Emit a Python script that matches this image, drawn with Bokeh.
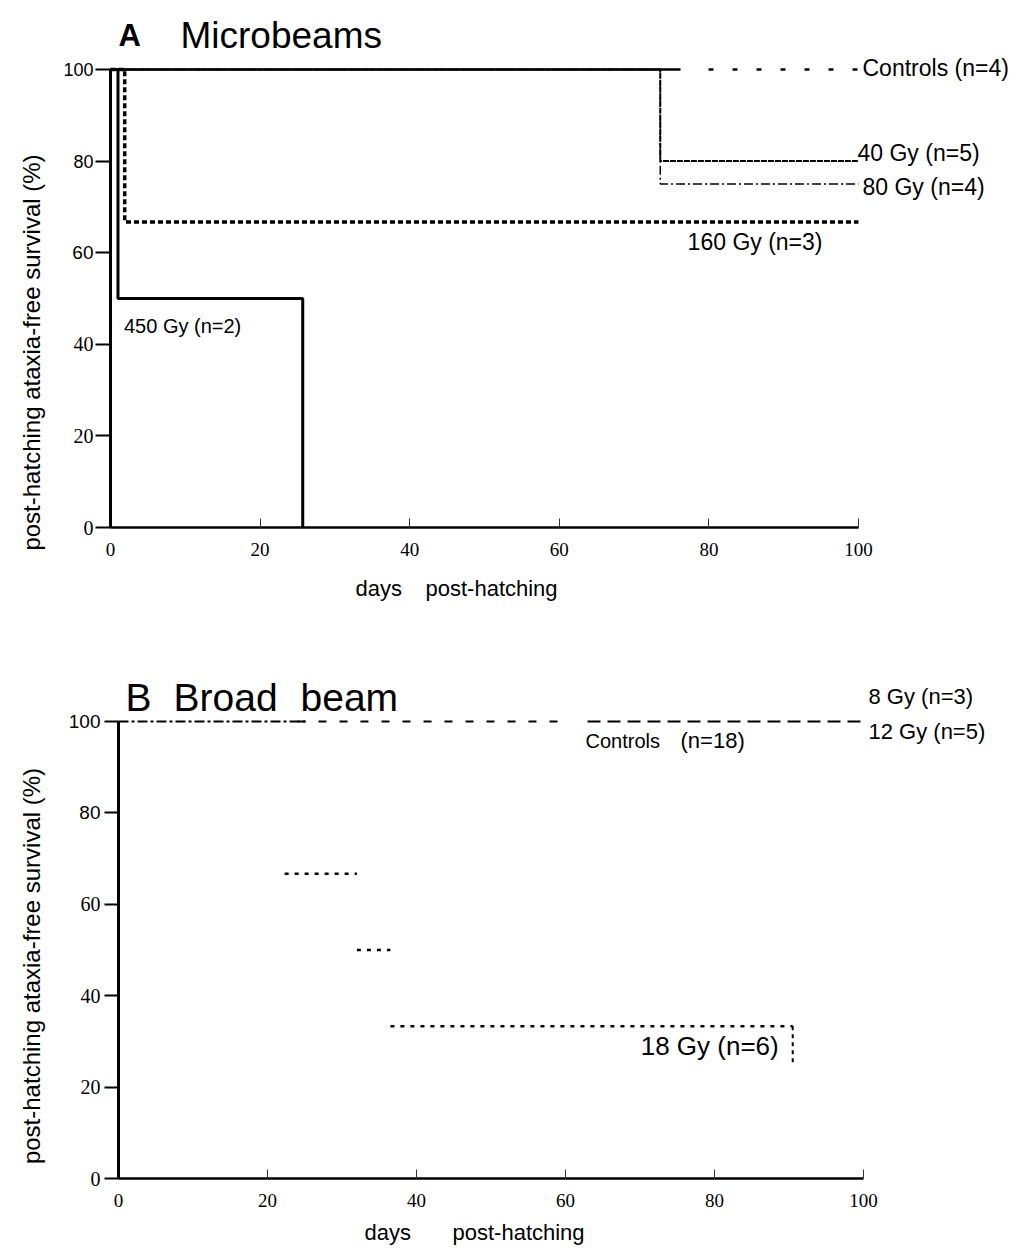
import math
from bokeh.plotting import figure
from bokeh.models import Range1d, Label, FixedTicker
from bokeh.layouts import column
from bokeh.embed import file_html
from bokeh.resources import INLINE

# ---------------- data ----------------
X_TICKS = [0, 20, 40, 60, 80, 100]
Y_TICKS = [0, 20, 40, 60, 80, 100]

# Panel A: microbeams (days post-hatching, % ataxia-free survival)
a_ctrl_t = [0, 100]
a_ctrl_s = [100, 100]
a_40_t = [0, 73.5, 100]
a_40_s = [100, 80, 80]
a_80_t = [0, 73.5, 100]
a_80_s = [100, 75, 75]
a_160_t = [0, 1.9, 100]
a_160_s = [100, 66.7, 66.7]
a_450_t = [0, 1.0, 25.7]
a_450_s = [100, 50, 0]

# Panel B: broad beam
b_ctrl_t = [0, 100]
b_ctrl_s = [100, 100]
b_8_t = [0, 100]
b_8_s = [100, 100]
b_12_t = [0, 100]
b_12_s = [100, 100]
b_18_t = [0, 22.3, 32.0, 36.5, 90.5]
b_18_s = [100, 66.7, 50, 33.3, 25]

SANS = "Liberation Sans"
SERIF = "Liberation Serif"

FIG_W = 1016


def zone_dash(parts):
    out = list(parts) + [0, 4000]
    return " ".join(str(int(round(v))) for v in out)


def zone_pattern(start_px, end_px, unit):
    parts = [0, start_px] if start_px > 0 else []
    length = 0
    while length < end_px - start_px:
        parts.extend(unit)
        length += sum(unit)
    return zone_dash(parts)


def make_fig(h, x0_px, pxd, y0_px, pyu, ytick_out):
    # x0_px / y0_px: position of the data origin inside the figure (px)
    xr = Range1d(-x0_px / pxd, (FIG_W - x0_px) / pxd)
    yr = Range1d(-(h - y0_px) / pyu, y0_px / pyu)
    p = figure(width=FIG_W, height=h, frame_width=FIG_W, frame_height=h,
               x_range=xr, y_range=yr,
               output_backend="svg", toolbar_location=None,
               min_border=0)
    p.outline_line_color = None
    p.grid.visible = False
    p.background_fill_color = "white"
    p.border_fill_color = "white"
    xa = p.xaxis[0]
    xa.fixed_location = 0
    xa.bounds = (0, 100)
    xa.ticker = FixedTicker(ticks=X_TICKS)
    xa.axis_line_width = 2.5
    xa.axis_line_color = "black"
    xa.major_tick_in = 9
    xa.major_tick_out = 0
    xa.major_tick_line_width = 1
    xa.major_tick_line_color = "#333333"
    xa.minor_tick_line_color = None
    xa.major_label_text_font = SERIF
    xa.major_label_text_font_size = "19px"
    xa.major_label_text_color = "black"
    xa.major_label_standoff = 15
    ya = p.yaxis[0]
    ya.fixed_location = 0
    ya.bounds = (0, 100)
    ya.ticker = FixedTicker(ticks=Y_TICKS)
    ya.major_label_overrides = {t: "" for t in Y_TICKS}
    ya.axis_line_width = 3
    ya.axis_line_color = "black"
    ya.major_tick_in = 0
    ya.major_tick_out = ytick_out
    ya.major_tick_line_width = 2
    ya.major_tick_line_color = "black"
    ya.minor_tick_line_color = None
    return p


def lab(p, x, y, text, dx, dy, size, font=SANS, align="left",
        baseline="middle", style="normal", angle=0.0):
    p.add_layout(Label(x=x, y=y, text=text, x_offset=dx, y_offset=dy,
                       text_font=font, text_font_size=f"{size}px",
                       text_align=align, text_baseline=baseline,
                       text_font_style=style, angle=angle,
                       text_color="black"))


# ---------------- Panel A ----------------
PXD_A = 7.48
pa = make_fig(613, 110, PXD_A, 527, 4.58, 15)

pa.step(a_450_t, a_450_s, mode="after", line_color="black", line_width=3)
pa.step(a_160_t, a_160_s, mode="after", line_color="black", line_width=3.5,
        line_dash="5 3")
pa.step(a_80_t, a_80_s, mode="after", line_color="black", line_width=1.5,
        line_dash="9 3 2 3")
pa.step(a_40_t, a_40_s, mode="after", line_color="black", line_width=2,
        line_dash="6 1")
ctrl_a_dash = zone_dash([76.2 * PXD_A, 28] + [5, 19] * 7)
pa.line(a_ctrl_t, a_ctrl_s, line_color="black", line_width=2.5,
        line_dash=ctrl_a_dash)

# y tick labels (the scan mixes fonts)
ytick_font_a = [SERIF, SERIF, SERIF, SANS, SANS, SANS]
ytick_size_a = [20, 20, 20, 19, 18, 18]
for t, f, s in zip(Y_TICKS, ytick_font_a, ytick_size_a):
    lab(pa, 0, t, str(t), -17, 0, s, font=f, align="right")

lab(pa, 0, 100, "A", 8, 34, 31, style="bold", baseline="alphabetic")
lab(pa, 0, 100, "Microbeams", 70, 34, 37, baseline="alphabetic")
lab(pa, a_ctrl_t[-1], a_ctrl_s[-1], "Controls", 4, 2, 23)
lab(pa, a_ctrl_t[-1], a_ctrl_s[-1], "(n=4)", 96, 2, 23)
lab(pa, a_40_t[-1], a_40_s[-1], "40 Gy (n=5)", -1, 8, 23)
lab(pa, a_80_t[-1], a_80_s[-1], "80 Gy (n=4)", 4, -3, 23)
lab(pa, a_160_t[-1], a_160_s[-1], "160 Gy (n=3)", -36, -20, 23, align="right")
lab(pa, a_450_t[1], a_450_s[1], "450 Gy (n=2)", 6, -27, 20)
lab(pa, 0, 50, "post-hatching ataxia-free survival (%)", -79, -54, 24,
    align="center", angle=math.pi / 2)
lab(pa, 0, 0, "days", 245, -61, 22)
lab(pa, 0, 0, "post-hatching", 315, -61, 22)

# ---------------- Panel B ----------------
PXD_B = 7.45
pb = make_fig(636, 118, PXD_B, 565, 4.57, 14)

pb.line(b_12_t, b_12_s, line_color="black", line_width=2,
        line_dash=zone_pattern(0, 23 * PXD_B, [10, 3, 3, 3]))
pb.line(b_8_t, b_8_s, line_color="black", line_width=2,
        line_dash=zone_pattern(24 * PXD_B, 59.5 * PXD_B, [8, 13]))
pb.line(b_ctrl_t, b_ctrl_s, line_color="black", line_width=2,
        line_dash=zone_pattern(63 * PXD_B, 100 * PXD_B, [13, 7]))
pb.segment(x0=b_18_t[1:-1], y0=b_18_s[1:-1], x1=b_18_t[2:], y1=b_18_s[1:-1],
           line_color="black", line_width=2.5, line_dash="4 6")
pb.segment(x0=[b_18_t[-1]], y0=[b_18_s[-2]], x1=[b_18_t[-1]], y1=[b_18_s[-1]],
           line_color="black", line_width=2, line_dash="4 4")

ytick_font_b = [SERIF, SERIF, SERIF, SERIF, SANS, SANS]
ytick_size_b = [20, 20, 20, 20, 19, 19]
for t, f, s in zip(Y_TICKS, ytick_font_b, ytick_size_b):
    lab(pb, 0, t, str(t), -18, 0, s, font=f, align="right")

lab(pb, 0, 100, "B", 7, 24, 39, baseline="alphabetic")
lab(pb, 0, 100, "Broad", 55, 24, 39, baseline="alphabetic")
lab(pb, 0, 100, "beam", 182, 24, 39, baseline="alphabetic")
lab(pb, b_8_t[-1], b_8_s[-1], "8 Gy (n=3)", 5, 25, 22)
lab(pb, b_12_t[-1], b_12_s[-1], "12 Gy (n=5)", 5, -10, 22)
lab(pb, b_ctrl_t[-1], b_ctrl_s[-1], "Controls", -278, -19, 20)
lab(pb, b_ctrl_t[-1], b_ctrl_s[-1], "(n=18)", -183, -19, 22)
lab(pb, b_18_t[-1], b_18_s[-1], "18 Gy (n=6)", -14, 18, 26, align="right")
lab(pb, 0, 50, "post-hatching ataxia-free survival (%)", -87, -16, 24,
    align="center", angle=math.pi / 2)
lab(pb, 0, 0, "days", 246, -54, 22)
lab(pb, 0, 0, "post-hatching", 334, -54, 22)

layout = column(pa, pb, spacing=0)
open("out.html", "w").write(file_html(layout, INLINE))
